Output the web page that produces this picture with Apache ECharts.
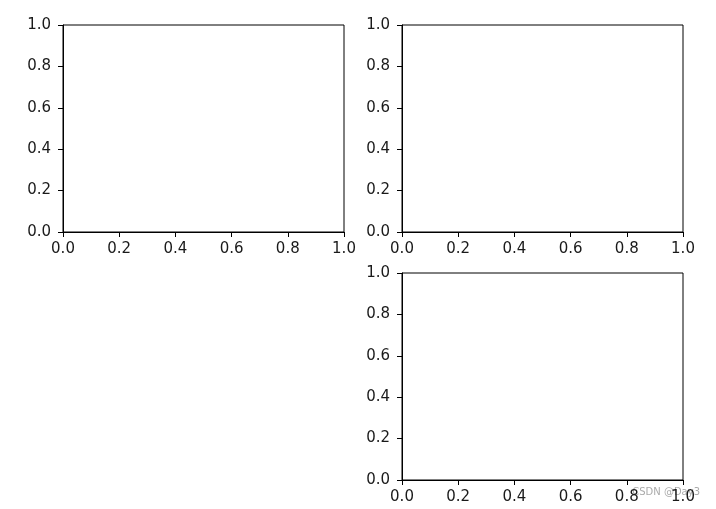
<!DOCTYPE html>
<html><head><meta charset="utf-8">
<script src="https://cdn.jsdelivr.net/npm/echarts@6/dist/echarts.min.js"></script>
<style>html,body{margin:0;padding:0;background:#fff}#c{width:716px;height:509px}</style>
</head><body><div id="c"></div>
<script>
var axisMin = 0;
var axisMax = 1;
var tickStep = 0.2;
var tickLabels = ['0.0','0.2','0.4','0.6','0.8','1.0'];
var panels = ['top-left','top-right','bottom-right'];
var watermark = 'CSDN @Day3';

var grids = [
  {left:63, top:25, width:281, height:207},
  {left:402, top:25, width:281, height:207},
  {left:402, top:273, width:281, height:207}
];
function fmt(v){ var i = Math.round((v-axisMin)/tickStep); return tickLabels[i] !== undefined ? tickLabels[i] : v.toFixed(1); }
function axis(type, gi){
  return {
    type:'value', gridIndex:gi, min:axisMin, max:axisMax, interval:tickStep,
    axisLine:{show:true, onZero:false, lineStyle:{color:'#000', width:1}},
    axisTick:{show:true, inside:false, length:5, lineStyle:{color:'#000', width:1}},
    axisLabel:{show:true, formatter:fmt, color:'#1a1a1a', fontFamily:'DejaVu Sans', fontSize:15, margin: type==='x' ? 10 : 12},
    splitLine:{show:false}
  };
}
var chart = echarts.init(document.getElementById('c'), null, {renderer:'canvas'});
chart.setOption({
  animation:false,
  backgroundColor:'#fff',
  grid: grids.map(function(g){ return Object.assign({show:true, borderColor:'#000', borderWidth:1, backgroundColor:'transparent', containLabel:false}, g); }),
  xAxis: panels.map(function(p,i){ return axis('x', i); }),
  yAxis: panels.map(function(p,i){ return axis('y', i); }),
  series: panels.map(function(p,i){ return {type:'line', name:p, xAxisIndex:i, yAxisIndex:i, data:[]}; }),
  graphic:[{type:'text', right:16, top:487, style:{text:watermark, fill:'#aaa', font:'10px "DejaVu Sans"'}}]
});
</script></body></html>
